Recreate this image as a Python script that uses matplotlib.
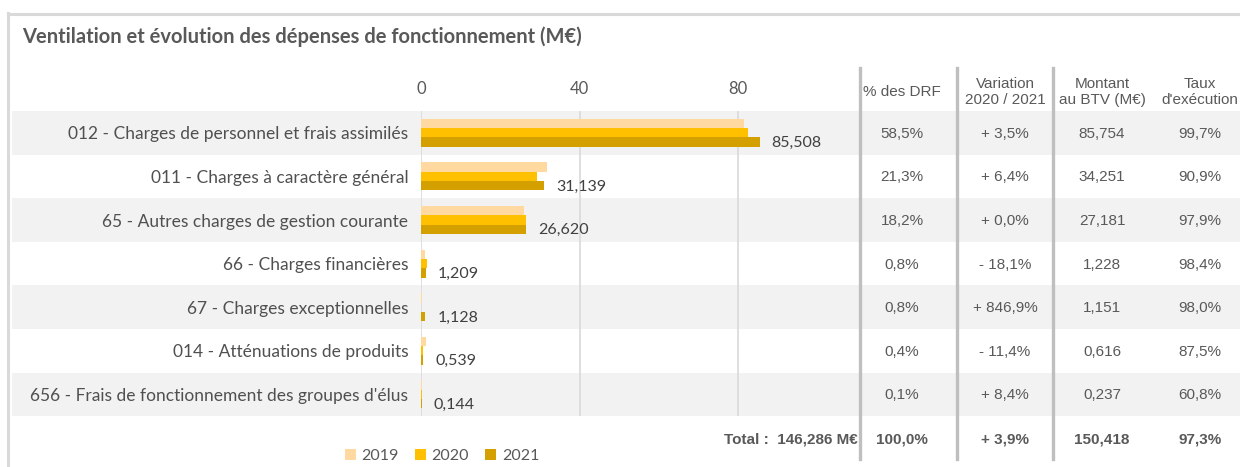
import matplotlib
matplotlib.use("Agg")
import matplotlib.pyplot as plt
import numpy as np

# ── Data ───────────────────────────────────────────────────────────────────
categories = [
    "012 - Charges de personnel et frais assimilés",
    "011 - Charges à caractère général",
    "65 - Autres charges de gestion courante",
    "66 - Charges financières",
    "67 - Charges exceptionnelles",
    "014 - Atténuations de produits",
    "656 - Frais de fonctionnement des groupes d'élus",
]
years = ["2019", "2020", "2021"]
val_2019 = [81.4, 31.9, 25.9, 1.1, 0.35, 1.2, 0.3]
val_2020 = [82.62, 29.27, 26.62, 1.476, 0.119, 0.608, 0.133]
val_2021 = [85.508, 31.139, 26.620, 1.209, 1.128, 0.539, 0.144]

col_headers = ["% des DRF", "Variation\n2020 / 2021", "Montant\nau BTV (M€)", "Taux\nd'exécution"]
pct_drf   = ["58,5%", "21,3%", "18,2%", "0,8%", "0,8%", "0,4%", "0,1%"]
variation = ["+ 3,5%", "+ 6,4%", "+ 0,0%", "- 18,1%", "+ 846,9%", "- 11,4%", "+ 8,4%"]
montant   = ["85,754", "34,251", "27,181", "1,228", "1,151", "0,616", "0,237"]
taux_exec = ["99,7%", "90,9%", "97,9%", "98,4%", "98,0%", "87,5%", "60,8%"]
total_label = "Total :  146,286 M€"
totals = ["100,0%", "+ 3,9%", "150,418", "97,3%"]

title = "Ventilation et évolution des dépenses de fonctionnement (M€)"

# ── Style ──────────────────────────────────────────────────────────────────
COLORS = ["#FFD9A0", "#FFC000", "#D4A000"]
BAND = "#F2F2F2"
TXT_DARK = "#404040"
TXT_TAB = "#595959"
SEP = "#BFBFBF"
LABEL_FONT = "Lato"
TABLE_FONT = "Liberation Sans"

W, H = 1240, 467
fig = plt.figure(figsize=(W / 100, H / 100), dpi=100)

# background axes in pixel coordinates
bg = fig.add_axes([0, 0, 1, 1])
bg.set_xlim(0, W)
bg.set_ylim(H, 0)
bg.axis("off")

row_top, row_h = 111, 43.6
n = len(categories)

# alternating row bands
for i in range(n):
    if i % 2 == 0:
        bg.add_patch(plt.Rectangle((12, row_top + i * row_h), W - 12, row_h,
                                   color=BAND, lw=0, zorder=0))

# outer frame (left + top)
bg.plot([8, 8], [13, H], color="#D9D9D9", lw=2.2, zorder=1)
bg.plot([8, W], [14, 14], color="#D9D9D9", lw=2.2, zorder=1)

bg.text(22, 37, title, fontsize=14.5, fontweight="bold", color=TXT_TAB,
        family=LABEL_FONT, va="center", ha="left")

# table separators
for x in [860, 957, 1053]:
    bg.plot([x, x], [68, 459], color=SEP, lw=2.4, zorder=2)

col_x = [902, 1005, 1102, 1200]
for cx, head in zip(col_x, col_headers):
    bg.text(cx, 92, head, ha="center", va="center", fontsize=11,
            color=TXT_TAB, family=TABLE_FONT, linespacing=1.2)

for i in range(n):
    cy = row_top + (i + 0.5) * row_h + 1
    for cx, col in zip(col_x, [pct_drf, variation, montant, taux_exec]):
        bg.text(cx, cy, col[i], ha="center", va="center", fontsize=11,
                color=TXT_TAB, family=TABLE_FONT)

bg.text(858, 439, total_label, ha="right", va="center", fontsize=11,
        fontweight="bold", color=TXT_TAB, family=TABLE_FONT)
for cx, t in zip(col_x, totals):
    bg.text(cx, 439, t, ha="center", va="center", fontsize=11,
            fontweight="bold", color=TXT_TAB, family=TABLE_FONT)

# ── Bars ───────────────────────────────────────────────────────────────────
x0, x1 = 421, 860
px_per_unit = (738 - 421) / 80
ax = fig.add_axes([x0 / W, (H - (row_top + n * row_h)) / H,
                   (x1 - x0) / W, n * row_h / H])
ax.patch.set_alpha(0)
ax.set_xlim(0, (x1 - x0) / px_per_unit)
ax.set_ylim(n - 0.5, -0.5)

y = np.arange(n)
bh = 0.215
handles = []
for k, (vals, c, yr) in enumerate(zip([val_2019, val_2020, val_2021], COLORS, years)):
    b = ax.barh(y + (k - 1) * bh, vals, height=bh, color=c, label=yr, zorder=3)
    handles.append(b)

for i, v in enumerate(val_2021):
    ax.text(v + 3.0, i + bh + 0.02, f"{v:.3f}".replace(".", ","), ha="left",
            va="center", fontsize=11.5, color=TXT_DARK, family=LABEL_FONT)

ax.set_xticks([0, 40, 80])
ax.xaxis.tick_top()
ax.tick_params(axis="x", length=0, pad=10, labelsize=12, labelcolor=TXT_TAB)
for lab in ax.get_xticklabels():
    lab.set_family(LABEL_FONT)
ax.grid(axis="x", color="#D9D9D9", lw=1.2, zorder=1)
ax.set_yticks(y)
ax.set_yticklabels(categories, fontsize=12.5, color="#505050", family=LABEL_FONT)
ax.tick_params(axis="y", length=0, pad=9)
for s in ax.spines.values():
    s.set_visible(False)

leg = fig.legend(handles=handles, labels=years, loc="center",
                 bbox_to_anchor=(442 / W, 1 - 456 / H), ncol=3, frameon=False,
                 handlelength=0.7, handleheight=0.7, handletextpad=0.35,
                 columnspacing=1.0, prop={"family": LABEL_FONT, "size": 11.5})
for t in leg.get_texts():
    t.set_color(TXT_TAB)

fig.savefig("out.png", dpi=100)
